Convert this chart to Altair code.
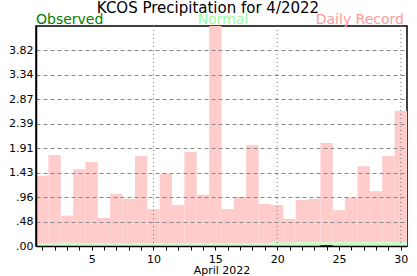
import altair as alt
import pandas as pd

days = list(range(1, 31))
record = [1.37, 1.78, 0.59, 1.50, 1.64, 0.55, 1.02, 0.92, 1.76, 0.72,
          1.41, 0.80, 1.84, 1.00, 4.60, 0.72, 0.96, 1.97, 0.82, 0.80,
          0.53, 0.90, 0.92, 2.01, 0.70, 0.94, 1.56, 1.07, 1.76, 2.64]
normal = [0.05, 0.05, 0.07, 0.06, 0.06, 0.06, 0.06, 0.05, 0.06, 0.06,
          0.06, 0.06, 0.06, 0.06, 0.06, 0.06, 0.06, 0.06, 0.06, 0.08,
          0.07, 0.08, 0.08, 0.08, 0.08, 0.08, 0.08, 0.08, 0.08, 0.08]
observed = [0, 0, 0, 0, 0, 0, 0, 0, 0, 0,
            0, 0, 0, 0, 0, 0, 0, 0, 0, 0,
            0, 0, 0, 0.02, 0, 0, 0, 0, 0, 0]
y_ticks = [0, 0.478, 0.956, 1.433, 1.91, 2.388, 2.866, 3.343, 3.82]
y_max = 4.2975
v_grid_days = [10, 20, 30]

FONT = "DejaVu Sans"

df = pd.DataFrame({"day": days, "record": record, "normal": normal, "observed": observed})
df["x0"] = df["day"] - 0.5
df["x1"] = df["day"] + 0.5

xscale = alt.Scale(domain=[0.5, 30.5], nice=False, zero=False)
yscale = alt.Scale(domain=[0, y_max], nice=False)

base = alt.Chart(df)

rec = base.mark_bar(color="#ffcccc", clip=True, opacity=1).encode(
    x=alt.X("x0:Q", scale=xscale,
            axis=alt.Axis(title="April 2022", values=days, tickCount=100, grid=False,
                          labelExpr="datum.value % 5 == 0 ? datum.value : ''",
                          labelOverlap=False,
                          tickSize=4, tickColor="black", domainColor="black",
                          domainWidth=1.5, labelColor="black", labelFont=FONT,
                          labelFontSize=11, titleFont=FONT, titleFontSize=11,
                          titleFontWeight="normal", titleColor="black",
                          titlePadding=0, labelPadding=3, labelFlush=False,
                          zindex=1)),
    x2="x1:Q",
    y=alt.Y("record:Q", scale=yscale,
            axis=alt.Axis(title=None, values=y_ticks, tickCount=100, tickSize=0,
                          labelOverlap=False,
                          labelExpr="datum.value < 1 ? substring(format(datum.value, '.2f'), 1) : format(datum.value, '.2f')",
                          grid=True, gridDash=[4, 3], gridColor="#888888",
                          gridWidth=1, domainColor="black", domainWidth=1.5,
                          labelColor="black", labelFont=FONT, labelFontSize=11,
                          labelPadding=3, zindex=1)),
    y2=alt.datum(0),
)

nor = base.mark_bar(color="#ccffcc", opacity=1).encode(
    x=alt.X("x0:Q", scale=xscale), x2="x1:Q",
    y=alt.Y("normal:Q", scale=yscale), y2=alt.datum(0),
)

obs = base.transform_filter("datum.observed > 0").mark_bar(color="#006600", opacity=1).encode(
    x=alt.X("x0:Q", scale=xscale), x2="x1:Q",
    y=alt.Y("observed:Q", scale=yscale), y2=alt.datum(0),
)

vgrid = alt.Chart(pd.DataFrame({"d": v_grid_days})).mark_rule(
    color="#777777", strokeDash=[1, 3], strokeWidth=1
).encode(x=alt.X("d:Q", scale=xscale))

title_df = pd.DataFrame({"t": ["KCOS Precipitation for 4/2022"]})
title = alt.Chart(title_df).mark_text(
    font=FONT, fontSize=15, color="black", align="center", baseline="alphabetic"
).encode(text="t:N", x=alt.value(172), y=alt.value(-13))

leg_obs = alt.Chart(pd.DataFrame({"t": ["Observed"]})).mark_text(
    font=FONT, fontSize=14, color="#008000", align="left", baseline="alphabetic"
).encode(text="t:N", x=alt.value(0), y=alt.value(-2))
leg_nor = alt.Chart(pd.DataFrame({"t": ["Normal"]})).mark_text(
    font=FONT, fontSize=14, color="#99ff99", align="center", baseline="alphabetic"
).encode(text="t:N", x=alt.value(187), y=alt.value(-2))
leg_rec = alt.Chart(pd.DataFrame({"t": ["Daily Record"]})).mark_text(
    font=FONT, fontSize=14, color="#ff9999", align="right", baseline="alphabetic"
).encode(text="t:N", x=alt.value(368), y=alt.value(-2))

chart = alt.layer(rec, nor, obs, vgrid, title, leg_obs, leg_nor, leg_rec).properties(
    width=371, height=220,
    autosize=alt.AutoSizeParams(type="none"),
    padding={"left": 36, "top": 26, "right": 10, "bottom": 30},
    background="white",
).configure_view(stroke="black", strokeWidth=1.5)

chart.save("out.html", embed_options={"renderer": "svg", "actions": False})
